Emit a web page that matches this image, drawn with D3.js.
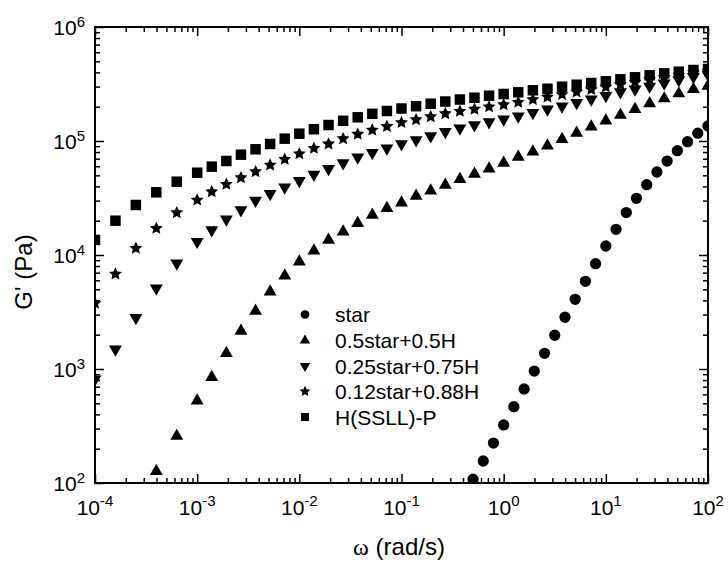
<!DOCTYPE html>
<html lang="en">
<head>
<meta charset="utf-8">
<title>G' vs omega</title>
<script src="https://cdnjs.cloudflare.com/ajax/libs/d3/7.8.5/d3.min.js"></script>
<style>
  body { margin: 0; background: #fff; }
  svg { display: block; font-family: "Liberation Sans", Arial, sans-serif; }
  .tick line { stroke: #000; stroke-width: 1.5; }
</style>
</head>
<body>
<svg width="728" height="565"></svg>
<script>
// frequencies of the blend sweeps (rad/s)
var omega = [1.0e-4, 1.585e-4, 2.512e-4, 3.981e-4, 6.31e-4, 1.0e-3, 1.389e-3, 1.931e-3, 2.683e-3, 3.728e-3,
  5.179e-3, 7.197e-3, 1.0e-2, 1.389e-2, 1.931e-2, 2.683e-2, 3.728e-2, 5.179e-2, 7.197e-2, 0.1,
  0.1389, 0.1931, 0.2683, 0.3728, 0.5179, 0.7197, 1.0, 1.389, 1.931, 2.683,
  3.728, 5.179, 7.197, 10, 13.89, 19.31, 26.83, 37.28, 51.79, 71.97, 100];
// frequencies of the pure star sweep
var omegaStar = [0.5012, 0.631, 0.7943, 1.0, 1.259, 1.585, 1.995, 2.512, 3.162, 3.981, 5.012, 6.31,
  7.943, 10, 12.59, 15.85, 19.95, 25.12, 31.62, 39.81, 50.12, 63.1, 79.43, 100];

var gStar = [108, 156, 224, 323, 467, 668, 959, 1374, 1977, 2844, 4083, 5875,
  8395, 11995, 16790, 23550, 31400, 41400, 53450, 66700, 82200, 98600, 117000, 135500];
var gHalf = [null, null, null, 127, 258, 527, 846, 1374, 2154, 3228,
  4764, 6577, 8730, 10910, 13550, 16000, 18970, 22440, 25700, 28770,
  32960, 36640, 41110, 46130, 51400, 57150, 64120, 72440, 80540, 90780,
  103500, 117500, 133400, 150700, 169000, 189700, 212800, 235500, 260600, 284200, 303700];
var gQuarter = [813, 1489, 2818, 5105, 8450, 13090, 16560, 20560, 24830, 30060,
  34500, 39260, 44770, 50830, 57150, 64120, 71940, 78780, 86290, 94180,
  102100, 110600, 120700, 129200, 138100, 146800, 155300, 165000, 176700, 190100,
  201900, 216300, 232700, 249600, 269000, 284600, 301300, 320800, 342800, 366400, 383100];
var gTwelve = [3767, 6808, 11450, 17140, 23500, 30360, 35890, 41690, 47640, 53830,
  61540, 69050, 77260, 86290, 94180, 104800, 114800, 124800, 134300, 145200,
  153800, 163300, 173500, 182100, 190100, 199600, 208100, 218600, 231000, 243200,
  255600, 269000, 283000, 297600, 313600, 329300, 344900, 362000, 379300, 397300, 409600];
var gHSSLL = [13550, 20000, 27460, 35480, 43950, 52700, 59560, 66800, 75860, 84600,
  94200, 104800, 115900, 126900, 138100, 150400, 161400, 173200, 183300, 192800,
  201900, 212500, 222000, 231200, 239700, 249600, 258400, 267500, 278500, 287500,
  299400, 311700, 322700, 333900, 347700, 362100, 376800, 392300, 405400, 419500, 428300];

var seriesNames = ["star", "0.5star+0.5H", "0.25star+0.75H", "0.12star+0.88H", "H(SSLL)-P"];
var xMajor = [1e-4, 1e-3, 1e-2, 1e-1, 1e0, 1e1, 1e2];
var xExp = ["-4", "-3", "-2", "-1", "0", "1", "2"];
var yMajor = [1e2, 1e3, 1e4, 1e5, 1e6];
var yExp = ["2", "3", "4", "5", "6"];

var svg = d3.select("svg");
var plotL = 95, plotR = 708, plotT = 27, plotB = 483;

var x = d3.scaleLog().domain([1e-4, 1e2]).range([plotL, plotR]);
var y = d3.scaleLog().domain([1e2, 1e6]).range([plotB, plotT]);

function isMajor(v) {
  var l = Math.log10(v);
  return Math.abs(l - Math.round(l)) < 1e-6;
}
var xMinor = x.ticks().filter(function(v) { return !isMajor(v); });
var yMinor = y.ticks().filter(function(v) { return !isMajor(v); });

// ticks on all four sides, pointing inwards
function ticks(axisFn, scale, tr, vals, len) {
  var g = svg.append("g")
    .attr("transform", tr)
    .call(axisFn(scale).tickValues(vals).tickSize(-len).tickSizeOuter(0).tickFormat(""));
  g.select(".domain").remove();
}
ticks(d3.axisBottom, x, "translate(0," + plotB + ")", xMajor, 9);
ticks(d3.axisBottom, x, "translate(0," + plotB + ")", xMinor, 5);
ticks(d3.axisTop, x, "translate(0," + plotT + ")", xMajor, 9);
ticks(d3.axisTop, x, "translate(0," + plotT + ")", xMinor, 5);
ticks(d3.axisLeft, y, "translate(" + plotL + ",0)", yMajor, 9);
ticks(d3.axisLeft, y, "translate(" + plotL + ",0)", yMinor, 5);
ticks(d3.axisRight, y, "translate(" + plotR + ",0)", yMajor, 9);
ticks(d3.axisRight, y, "translate(" + plotR + ",0)", yMinor, 5);

svg.append("rect")
  .attr("x", plotL).attr("y", plotT)
  .attr("width", plotR - plotL).attr("height", plotB - plotT)
  .attr("fill", "none").attr("stroke", "#000").attr("stroke-width", 2);

// tick labels as 10 with superscript
xMajor.forEach(function(v, i) {
  var t = svg.append("text")
    .attr("x", x(v)).attr("y", plotB + 32)
    .attr("text-anchor", "middle")
    .attr("font-size", 21);
  t.append("tspan").text("10");
  t.append("tspan").attr("dy", -9).attr("font-size", 15).text(xExp[i]);
});
yMajor.forEach(function(v, i) {
  var t = svg.append("text")
    .attr("x", plotL - 10).attr("y", y(v) + 8)
    .attr("text-anchor", "end")
    .attr("font-size", 21);
  t.append("tspan").text("10");
  t.append("tspan").attr("dy", -8).attr("font-size", 15).text(yExp[i]);
});

// axis titles
var xt = svg.append("text")
  .attr("x", 399).attr("y", 555)
  .attr("text-anchor", "middle")
  .attr("font-size", 24);
xt.append("tspan").attr("font-family", "'Liberation Serif', 'Times New Roman', serif").text("ω");
xt.append("tspan").text(" (rad/s)");

svg.append("text")
  .attr("transform", "translate(32,272) rotate(-90)")
  .attr("text-anchor", "middle")
  .attr("font-size", 24)
  .text("G' (Pa)");

// a chunkier five point star than d3.symbolStar
var fatStar = {
  draw: function(ctx, size) {
    var r = Math.sqrt(size), ri = r * 0.48;
    for (var k = 0; k < 10; k++) {
      var a = -Math.PI / 2 + k * Math.PI / 5, rr = k % 2 ? ri : r;
      if (k === 0) ctx.moveTo(rr * Math.cos(a), rr * Math.sin(a));
      else ctx.lineTo(rr * Math.cos(a), rr * Math.sin(a));
    }
    ctx.closePath();
  }
};

// markers
svg.append("clipPath").attr("id", "plotclip")
  .append("rect")
  .attr("x", plotL).attr("y", plotT)
  .attr("width", plotR - plotL).attr("height", plotB - plotT);

var marks = [
  {name: seriesNames[0], xs: omegaStar, ys: gStar, type: d3.symbolCircle, size: 100, legSize: 60, rot: 0},
  {name: seriesNames[1], xs: omega, ys: gHalf, type: d3.symbolTriangle, size: 72, legSize: 48, rot: 0},
  {name: seriesNames[2], xs: omega, ys: gQuarter, type: d3.symbolTriangle, size: 72, legSize: 48, rot: 180},
  {name: seriesNames[3], xs: omega, ys: gTwelve, type: fatStar, size: 46, legSize: 32, rot: 0},
  {name: seriesNames[4], xs: omega, ys: gHSSLL, type: d3.symbolSquare, size: 110, legSize: 64, rot: 0}
];

var plot = svg.append("g").attr("clip-path", "url(#plotclip)");

marks.forEach(function(m) {
  var pts = m.xs.map(function(v, i) { return {w: v, g: m.ys[i]}; })
    .filter(function(d) { return d.g != null; });
  plot.selectAll(null)
    .data(pts)
    .enter().append("path")
    .attr("d", d3.symbol().type(m.type).size(m.size))
    .attr("transform", function(d) {
      return "translate(" + x(d.w) + "," + y(d.g) + ") rotate(" + m.rot + ")";
    })
    .attr("fill", "#000");
});

// legend
var legY = [314.5, 340.5, 366, 391.5, 417];
var leg = svg.append("g");
marks.forEach(function(m, i) {
  leg.append("path")
    .attr("d", d3.symbol().type(m.type).size(m.legSize))
    .attr("transform", "translate(305," + legY[i] + ") rotate(" + m.rot + ")")
    .attr("fill", "#000");
  leg.append("text")
    .attr("x", 335).attr("y", legY[i])
    .attr("dy", "0.36em")
    .attr("font-size", 21)
    .text(m.name);
});
</script>
</body>
</html>
